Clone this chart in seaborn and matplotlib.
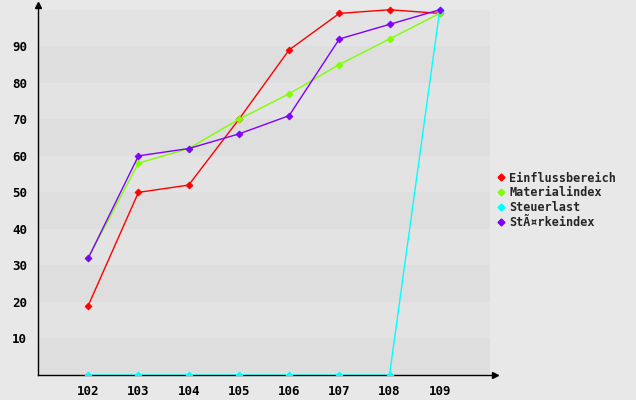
import numpy as np
import pandas as pd
import seaborn as sns
import matplotlib.pyplot as plt
from matplotlib.lines import Line2D

# Data
years = [102, 103, 104, 105, 106, 107, 108, 109]
einfluss = [19, 50, 52, 70, 89, 99, 100, 99]
material = [32, 58, 62, 70, 77, 85, 92, 99]
steuer = [0, 0, 0, 0, 0, 0, 0, 100]
staerke = [32, 60, 62, 66, 71, 92, 96, 100]
series_names = ["Einflussbereich", "Materialindex", "Steuerlast", "StÃ¤rkeindex"]
colors = ["#ff0000", "#80ff00", "#00ffff", "#8000ff"]
y_ticks = [10, 20, 30, 40, 50, 60, 70, 80, 90]

# Long format table for seaborn
df = pd.DataFrame({
    "x": years * 4,
    "value": einfluss + material + steuer + staerke,
    "series": np.repeat(series_names, len(years)),
})

sns.set_style("white")
plt.rcParams["font.family"] = ["DejaVu Sans Mono"]
plt.rcParams["font.weight"] = "bold"

bg = "#e8e8e8"
fig = plt.figure(figsize=(6.36, 4.0), dpi=100, facecolor=bg)
ax = fig.add_axes([38 / 636, 25 / 400, (495 - 38) / 636, 370 / 400])
ax.set_facecolor(bg)

x_lo, x_hi = 101, 110.1
y_lo, y_hi = 0, 101.3
ax.set_xlim(x_lo, x_hi)
ax.set_ylim(y_lo, y_hi)

# Alternating horizontal bands
band_right = (110 - x_lo) / (x_hi - x_lo)
for lo in range(0, 100, 10):
    c = "#dedede" if (lo // 10) % 2 == 0 else "#e3e3e3"
    ax.axhspan(lo, lo + 10, xmin=0, xmax=band_right, color=c, lw=0, zorder=0)

sns.lineplot(data=df, x="x", y="value", hue="series", hue_order=series_names,
             palette=colors, marker="D", markersize=3.5, markeredgewidth=0.6,
             linewidth=1.0, legend=False, ax=ax, zorder=3)
for line, c in zip(ax.get_lines(), colors):
    line.set_markeredgecolor(c)

# Axes styling
for s in ["top", "right"]:
    ax.spines[s].set_visible(False)
for s in ["left", "bottom"]:
    ax.spines[s].set_color("black")
    ax.spines[s].set_linewidth(1.0)
    ax.spines[s].set_zorder(2)
ax.plot(1, 0, ">", color="black", ms=4, transform=ax.transAxes, clip_on=False)
ax.plot(0, 1, "^", color="black", ms=4, transform=ax.transAxes, clip_on=False)

ax.set_xticks(years)
ax.set_yticks(y_ticks)
ax.tick_params(axis="both", direction="out", length=3, width=1, color="black",
               labelsize=9, labelcolor="black")
ax.tick_params(axis="x", pad=4)
ax.tick_params(axis="y", pad=5)
ax.set_xlabel("")
ax.set_ylabel("")
ax.grid(False)

# Legend with markers only
handles = [Line2D([], [], linestyle="none", marker="D", markersize=3.5,
                  color=c, markeredgecolor=c) for c in colors]
fig.legend(handles, series_names, loc="upper left",
           bbox_to_anchor=(487 / 636, 1 - 161 / 400), frameon=False,
           handlelength=0.6, handletextpad=0.4, labelspacing=0.15,
           prop={"size": 8.5, "weight": "bold", "family": "DejaVu Sans Mono"})

fig.savefig("out.png", dpi=100, facecolor=bg)
